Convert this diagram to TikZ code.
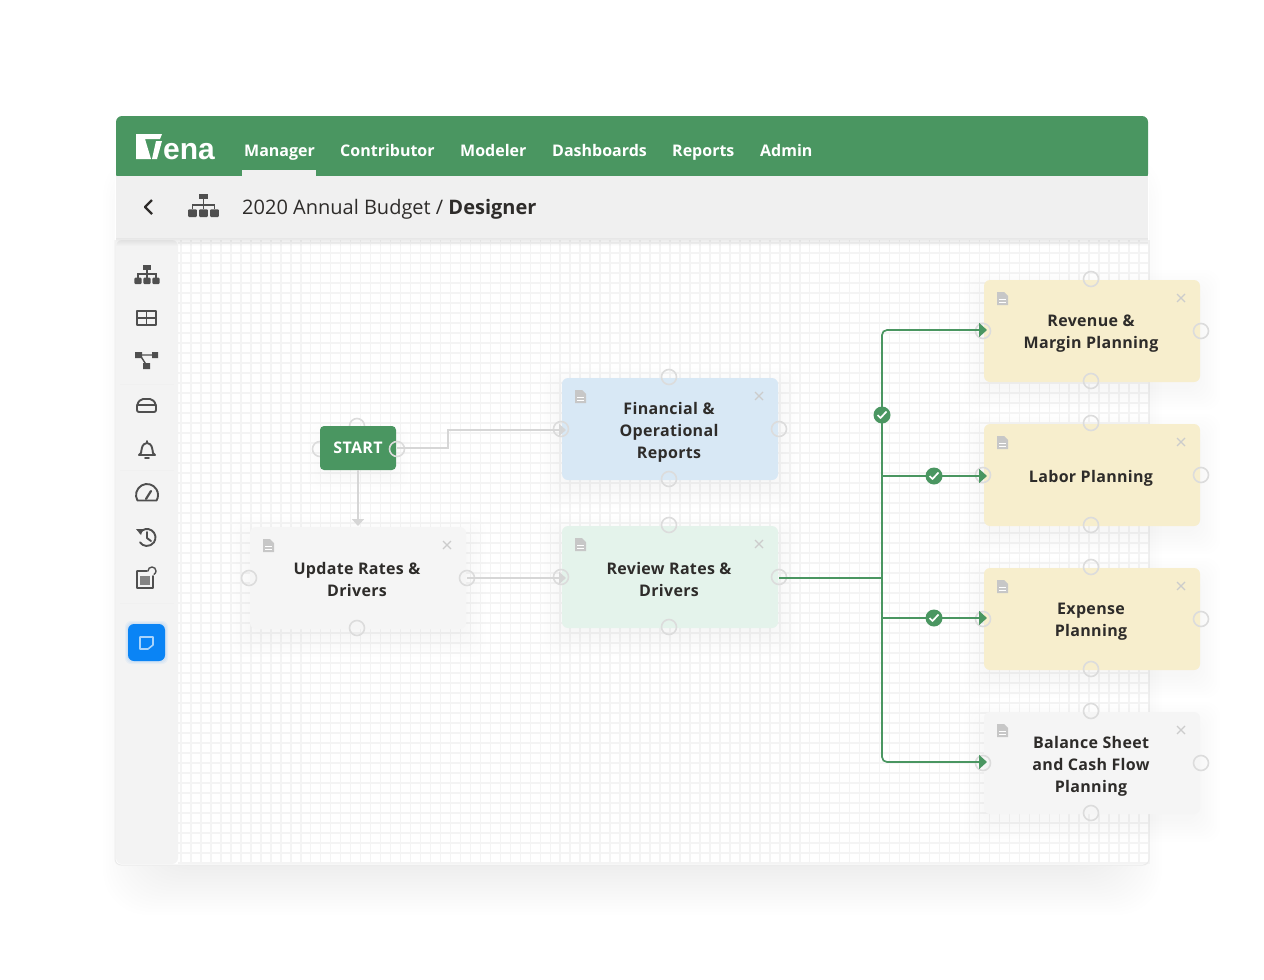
\documentclass[tikz,border=0pt]{standalone}
\usepackage{fontspec}
\setmainfont{Open Sans}
\newfontfamily\cardfont[LetterSpace=2]{Open Sans}
\newfontfamily\logofont{Liberation Sans}
\usetikzlibrary{arrows.meta}

\definecolor{venagreen}{HTML}{4A9661}
\definecolor{barbg}{HTML}{F0F0F0}
\definecolor{sidebg}{HTML}{F3F3F3}
\definecolor{gridgray}{HTML}{F4F4F4}
\definecolor{portgray}{HTML}{DCDCDC}
\definecolor{wiregray}{HTML}{D6D6D6}
\definecolor{icongray}{HTML}{4F4F4F}
\definecolor{inkdark}{HTML}{2E2C2A}
\definecolor{cardgray}{HTML}{F5F5F5}
\definecolor{cardblue}{HTML}{D8E8F5}
\definecolor{cardmint}{HTML}{E4F3EB}
\definecolor{cardsand}{HTML}{F7EECD}
\definecolor{btnblue}{HTML}{0A84F5}

\tikzset{
    navitem/.style={anchor=base west, inner sep=0pt, text=white, font=\fontsize{16}{16}\selectfont\bfseries},
    cardbox/.style={rounded corners=6pt, minimum width=216pt, minimum height=102pt},
    cardlabel/.style={align=center, inner sep=0pt, text=inkdark, font=\cardfont\fontsize{16}{22}\selectfont\bfseries},
    portring/.style={circle, draw=portgray, line width=1.6pt, minimum size=15pt, inner sep=0pt},
    porttop/.style={portring},
    wire/.style={draw=wiregray, line width=1.6pt},
    wirearrow/.style={wire, -{Triangle[width=12pt,length=7pt]}, shorten >=-5pt},
    flow/.style={draw=venagreen, line width=1.7pt},
    flowarrow/.style={flow, rounded corners=5pt, -{Triangle[width=14pt,length=8pt]}, shorten >=-3pt},
    okbadge/.style={circle, fill=venagreen, minimum size=17pt, inner sep=0pt},
    sideicon/.style={draw=icongray, line width=1.9pt, line join=round, line cap=round}
}

% card with its four ports, doc icon and close mark
\newcommand{\card}[5]{
    \node[cardbox, fill=#4] (#1) at (#2,#3) {};
    \node[cardlabel] (#1-txt) at (#2-1,#3+3) {#5};
    \node[porttop] (#1-t) at (#2-1,#3-52) {};
    \node[portring] (#1-b) at (#2-1,#3+50) {};
    \node[portring] (#1-l) at (#2-109,#3) {};
    \node[portring] (#1-r) at (#2+109,#3) {};
    \fill[black!22] (#2-95,#3-39) -- ++(7,0) -- ++(4,4) -- ++(0,9) -- ++(-11,0) -- cycle;
    \draw[white, line width=.8pt] (#2-93,#3-32) -- ++(7,0) (#2-93,#3-29) -- ++(7,0);
    \draw[black!20, line width=1.1pt] (#2+85,#3-37) -- ++(8,8) (#2+93,#3-37) -- ++(-8,8);
}
% soft shadow under a box
\newcommand{\softshadow}[7]{
    \foreach \s in {3,6,...,#5} {
        \fill[black, opacity=#6, rounded corners=#7]
            (#1-\s,#2-\s+8) rectangle (#3+\s,#4+\s+8);
    }
}
\newcommand{\hiericon}[3]{
    \begin{scope}[shift={(#1,#2)}, scale=#3]
        \fill[icongray] (-4,-11) rectangle (4,-6);
        \draw[icongray, line width=1.4pt] (0,-6) -- (0,3) (-10,3) |- (10,-1) -- (10,3);
        \foreach \ix in {-10,0,10} {
            \fill[icongray, rounded corners=1pt] (\ix-4,3) rectangle (\ix+4,10);
        }
    \end{scope}
}

\begin{document}
\begin{tikzpicture}[x=1pt, y=-1pt]
    \useasboundingbox (0,0) rectangle (1264,980);
    \fill[white] (0,0) rectangle (1264,980);

    % Frame
    \softshadow{160}{200}{1105}{850}{57}{0.003}{45pt}
    \fill[white, rounded corners=6pt] (115,116) rectangle (1149,865);
    \foreach \gx in {0,...,97} {
        \draw[gridgray, line width=1.5pt] (181+\gx*9.98,240) -- (181+\gx*9.98,864);
    }
    \foreach \gy in {0,...,62} {
        \draw[gridgray, line width=1.5pt] (178,243+\gy*10) -- (1149,243+\gy*10);
    }
    \draw[black!8, line width=1pt, rounded corners=6pt] (115,240) -- (115,865) -- (1149,865) -- (1149,240);

    % Side bar
    \fill[sidebg, rounded corners=6pt] (116,240) -- (116,864) -- (178,864) -- (178,240) -- cycle;
    \foreach \dy in {384,470,603} {
        \draw[black!6, line width=1pt] (120,\dy) -- (174,\dy);
    }

    % Bars
    \foreach \s in {1,...,8} {
        \fill[black, opacity=.012] (116,238) rectangle (1148,238+\s);
    }
    \fill[venagreen, rounded corners=6pt] (116,116) rectangle (1148,180);
    \fill[barbg] (116,176) rectangle (1148,238);

    % Logo
    \fill[white] (136,134) -- (162,134) -- (160,139) -- (145,139) -- (151,159) -- (136,159) -- cycle;
    \fill[white] (152,159) -- (157,159) -- (162,141) -- (156,141) -- cycle;
    \node[anchor=base west, inner sep=0pt, text=white, font=\logofont\fontsize{30}{30}\selectfont\bfseries] (logotext) at (163,159) {ena};

    % Menu
    \foreach \xpos/\txt/\nm in {244/Manager/navmanager, 340/Contributor/navcontrib, 460/Modeler/navmodeler,
        552/Dashboards/navdash, 672/Reports/navreports, 760/Admin/navadmin} {
        \node[navitem] (\nm) at (\xpos,156) {\txt};
    }
    \fill[barbg] (242,170) rectangle (316,176);

    % Title row
    \draw[inkdark, line width=2.4pt, line join=round] (152,200) -- (145,207) -- (152,214);
    \hiericon{203.5}{206}{1.1}
    \node[anchor=base west, inner sep=0pt, text=inkdark, font=\fontsize{20}{20}\selectfont] (title) at (242,214)
        {2020 Annual Budget / \textbf{Designer}};

    % Side icons
    \hiericon{147}{275}{0.9}
    \draw[sideicon] (137,311) rectangle (156,325) (137,318) -- (156,318) (146.5,311) -- (146.5,325);
    \draw[sideicon, line width=1.4pt] (139,355) -- (155,355) (140,355) -- (147,366);
    \fill[icongray] (135,352) rectangle (142,358) (152,352) rectangle (158,358) (143,363) rectangle (150,369);
    \draw[sideicon, rounded corners=2pt] (137,412) -- (137,404) -- (141,399) -- (152,399) -- (156,404) -- (156,412) -- cycle;
    \draw[sideicon] (137,405) -- (156,405);
    \draw[sideicon] (147,443) -- (147,441) (141,453) .. controls (142,447) and (142,444) .. (147,443) .. controls (152,444) and (152,447) .. (153,453) -- (155,455) -- (139,455) -- (141,453);
    \draw[sideicon] (145,458) -- (149,458);
    \draw[sideicon] (137.5,500.5) arc[start angle=150, end angle=390, radius=11] -- cycle;
    \draw[sideicon, line width=2.2pt] (146,499) -- (151,491);
    \draw[sideicon] (140,532.6) arc[start angle=215, end angle=505, radius=8.5];
    \fill[icongray] (136,529) -- (143,529) -- (141,535) -- cycle;
    \draw[sideicon] (147,532) -- (147,538) -- (151,541);
    \draw[sideicon, line width=1.6pt] (137,571) -- (147,571) (153,576) -- (153,588) -- (137,588) -- (137,571);
    \fill[icongray!70!white] (140,576) rectangle (150,585);
    \draw[sideicon, line width=1.4pt] (148,571) arc[start angle=180, end angle=420, radius=4];

    % Note button
    \foreach \s in {1,...,3} {
        \fill[btnblue, opacity=.05, rounded corners=6pt] (128-\s,624-\s) rectangle (165+\s,661+\s);
    }
    \fill[btnblue, rounded corners=6pt] (128,624) rectangle (165,661);
    \draw[white!65!btnblue, line width=1.6pt, line join=round] (140,637) -- (153,637) -- (153,645) -- (148,649) -- (140,649) -- cycle;

    % Shadows
    \foreach \ca/\cb/\cc/\cd in {561/378/778/480, 561/526/778/628, 250/527/466/629, 984/280/1200/382,
        984/424/1200/526, 984/568/1200/670, 984/712/1200/814} {
        \softshadow{\ca+4}{\cb+6}{\cc-4}{\cd-4}{24}{0.005}{14pt}
    }
    \softshadow{326}{432}{390}{464}{18}{0.005}{12pt}

    % Cards
    \card{fin}{670}{429}{cardblue}{Financial \&\\Operational\\Reports}
    \begin{scope}[cardlabel/.append style={yshift=1pt}]
        \card{rvw}{670}{577}{cardmint}{Review Rates \&\\Drivers}
    \end{scope}
    \begin{scope}[porttop/.style={portring, draw=none}, cardlabel/.append style={yshift=2pt}]
        \card{upd}{358}{578}{cardgray}{Update Rates \&\\Drivers}
    \end{scope}
    \card{rev}{1092}{331}{cardsand}{Revenue \&\\Margin Planning}
    \card{lab}{1092}{475}{cardsand}{Labor Planning}
    \card{exp}{1092}{619}{cardsand}{Expense\\Planning}
    \card{bal}{1092}{763}{cardgray}{Balance Sheet\\and Cash Flow\\Planning}

    % Start
    \node[portring] (st-t) at (357,426) {};
    \node[portring] (st-l) at (320,449) {};
    \node[fill=venagreen, rounded corners=4pt, minimum width=76pt, minimum height=44pt, inner sep=0pt,
        text=white, font=\cardfont\fontsize{16}{16}\selectfont\bfseries] (start) at (358,448) {\raisebox{-1pt}{START}};
    \node[portring] (st-r) at (397,449) {};

    % Lines
    \coordinate (elbow) at (448,448);
    \coordinate (elbowup) at (448,430);
    \coordinate (fintip) at (561,430);
    \coordinate (rvwtip) at (561,578);
    \coordinate (updtip) at (358,526);
    \draw[wirearrow] (st-r.center |- elbow) -- (elbow) -- (elbowup) -- (fintip);
    \draw[wirearrow, shorten >=0pt] (start.south) -- (updtip);
    \draw[wirearrow] (upd-r.center) -- (rvwtip);

    \coordinate (trunk) at (882,578);
    \coordinate (trunkb) at (882,476);
    \coordinate (trunkc) at (882,618);
    \coordinate (revtip) at (984,330);
    \coordinate (labtip) at (984,476);
    \coordinate (exptip) at (984,618);
    \coordinate (baltip) at (984,762);
    \draw[flow] (rvw-r.center |- trunk) -- (trunk);
    \draw[flowarrow] (trunk) |- (revtip);
    \draw[flowarrow] (trunk) |- (baltip);
    \draw[flowarrow] (trunkb) -- (labtip);
    \draw[flowarrow] (trunkc) -- (exptip);

    % Checks
    \foreach \nm/\xpos/\ypos in {okrev/882/415, oklab/934/476, okexp/934/618} {
        \node[okbadge] (\nm) at (\xpos,\ypos) {};
        \draw[white, line width=1.7pt, line join=round] (\xpos-4.5,\ypos) -- (\xpos-1.5,\ypos+3) -- (\xpos+4.5,\ypos-3.5);
    }
\end{tikzpicture}
\end{document}
